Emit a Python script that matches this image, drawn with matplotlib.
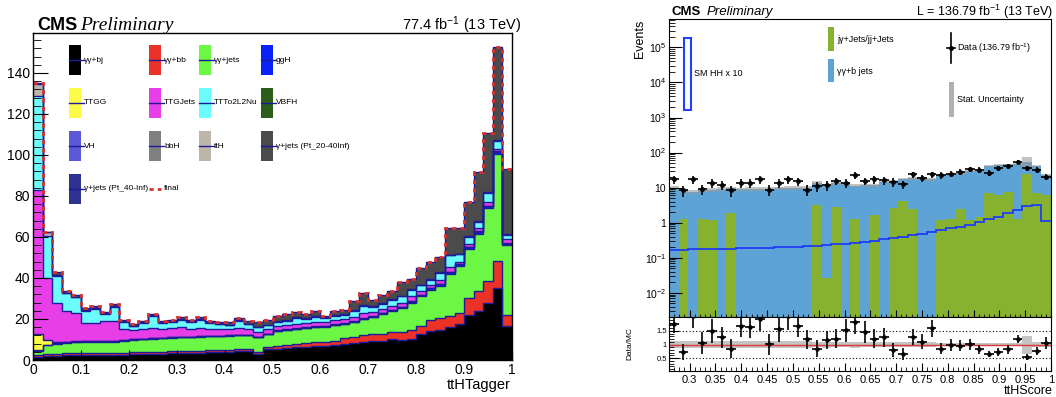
import numpy as np
import matplotlib
matplotlib.use('Agg')
import matplotlib.pyplot as plt
from matplotlib.patches import Rectangle
from matplotlib.lines import Line2D
from matplotlib.ticker import MultipleLocator, FixedLocator, FuncFormatter, LogLocator, NullFormatter

plt.rcParams['font.family'] = ['Liberation Sans', 'DejaVu Sans']
plt.rcParams['mathtext.fontset'] = 'custom'
plt.rcParams['mathtext.rm'] = 'Liberation Sans'
plt.rcParams['mathtext.it'] = 'Liberation Sans:italic'

# ---------------- pannello sinistro: ttHTagger (50 bin, livelli cumulativi dello stack)
lev_bj = [1.5, 1.8, 2.0, 2.2, 2.3, 2.4, 2.4, 2.3, 2.2, 2.3,
          2.8, 2.9, 3.0, 3.0, 3.3, 3.5, 3.3, 3.6, 3.8, 3.8,
          4.0, 4.3, 4.4, 3.0, 5.3, 5.6, 5.8, 6.2, 6.3, 6.8,
          7.0, 7.2, 8.0, 8.3, 9.0, 9.5, 9.3, 10.0, 9.8, 10.4,
          12.5, 14.0, 14.8, 16.0, 17.5, 22.0, 24.0, 27.8, 35.3, 16.4]
lev_bb = [2.2, 2.7, 3.0, 3.2, 3.3, 3.4, 3.4, 3.3, 3.2, 3.3,
          3.8, 3.9, 4.0, 4.0, 4.3, 4.5, 4.3, 4.6, 4.8, 4.8,
          5.0, 5.3, 5.4, 4.0, 6.5, 7.0, 7.5, 8.0, 8.2, 8.8,
          9.0, 9.5, 10.5, 11.0, 12.0, 12.5, 12.5, 13.5, 13.5, 14.5,
          16.5, 19.5, 20.4, 21.5, 23.0, 30.2, 33.5, 38.4, 48.5, 22.0]
lev_jets = [4.5, 7.3, 8.0, 8.5, 8.8, 9.0, 9.0, 9.0, 9.0, 9.5,
            9.8, 10.0, 10.3, 10.5, 10.8, 11.0, 11.0, 11.3, 11.5, 11.5,
            11.8, 12.0, 12.0, 11.0, 12.5, 14.0, 14.5, 15.0, 15.5, 16.0,
            16.3, 17.0, 17.5, 18.5, 20.0, 21.0, 22.5, 24.0, 25.5, 28.0,
            31.0, 34.3, 36.3, 42.0, 45.8, 54.2, 61.6, 74.0, 100.5, 56.0]
lev_ggh = [4.7, 7.5, 8.2, 8.7, 9.0, 9.2, 9.2, 9.2, 9.2, 9.7,
           10.0, 10.2, 10.5, 10.7, 11.0, 11.2, 11.2, 11.5, 11.7, 11.7,
           12.0, 12.2, 12.2, 11.2, 12.7, 14.2, 14.7, 15.2, 15.7, 16.2,
           16.5, 17.2, 17.7, 18.7, 20.2, 21.2, 22.7, 24.2, 25.8, 28.4,
           31.6, 35.0, 37.0, 42.8, 46.6, 55.0, 62.5, 75.0, 101.5, 56.8]
lev_ttgg = [12.6, 9.8, 8.8, 9.0, 9.2, 9.4, 9.4, 9.4, 9.4, 9.9,
            10.2, 10.4, 10.7, 10.9, 11.2, 11.4, 11.4, 11.7, 11.9, 11.9,
            12.2, 12.4, 12.4, 11.4, 12.9, 14.4, 14.9, 15.4, 15.9, 16.4,
            16.7, 17.4, 17.9, 18.9, 20.4, 21.4, 22.9, 24.4, 26.0, 28.6,
            31.8, 35.2, 37.2, 43.0, 46.8, 55.2, 62.7, 75.2, 101.7, 57.0]
lev_ttgjets = [83, 40, 28, 24, 23, 18, 18, 19, 19, 15,
               14.5, 15, 15.5, 15, 15.5, 16, 15, 15.5, 15, 15,
               15, 15.5, 15, 13.5, 15, 16.5, 17, 17.5, 18, 18.5,
               18.5, 19.5, 20, 21, 23, 23.5, 25, 26.5, 28, 31,
               33.5, 36.8, 38.9, 45.5, 47.9, 56.4, 64.5, 77, 103, 58.8]
lev_ttto = [129, 60.5, 41, 32.5, 30.5, 24, 25, 22.5, 26, 18.5,
            16.5, 18, 21.5, 18, 18.5, 19.5, 18.5, 19.5, 18, 17.5,
            17, 19, 17.5, 16, 17, 18.5, 19, 20.5, 20, 21,
            20.5, 21.5, 22, 24, 26.5, 26, 27.5, 29.5, 31, 34.3,
            36.5, 39.2, 42.5, 51.1, 51.5, 60.1, 67.3, 81.7, 107, 61]
lev_tth = [134.8, 62.2, 41.3, 32.8, 30.8, 24.3, 25.3, 22.8, 26.3, 18.8,
           16.8, 18.3, 21.8, 18.3, 18.8, 19.8, 18.8, 19.8, 18.3, 17.8,
           17.3, 19.3, 17.8, 16.3, 17.3, 18.8, 19.3, 20.8, 20.3, 21.3,
           20.8, 21.8, 22.3, 24.3, 26.8, 26.3, 27.8, 29.8, 31.3, 34.6,
           36.8, 39.5, 42.8, 51.4, 51.8, 60.4, 67.6, 82.0, 107.5, 61.3]
lev_final = [135, 62.4, 42.8, 33.8, 31.5, 25.5, 26.3, 23.5, 27.3, 19.6,
             17.5, 18.8, 22.4, 19.1, 19.4, 20.8, 19.6, 20.9, 19.0, 18.6,
             18.3, 20.3, 18.8, 18.3, 19.4, 21.6, 22.5, 23.5, 22.4, 23.7,
             21.6, 24.0, 24.2, 28.8, 32.7, 29.2, 31.9, 33.5, 37.9, 39.7,
             44.8, 47.9, 50.3, 64.4, 64.4, 77.1, 91.8, 110.6, 152.5, 93]

stack_labels = ['γγ+bj', 'γγ+bb', 'γγ+jets', 'ggH',
                'TTGG', 'TTGJets', 'TTTo2L2Nu', 'VBFH',
                'VH', 'bbH', 'ttH', 'γ+jets (Pt_20-40Inf)',
                'γ+jets (Pt_40-Inf)', 'final']
stack_colors = ['#000000', '#ec3226', '#6cf744', '#0a22f5',
                '#fbfb48', '#e83ee8', '#6bfcfc', '#2a5e1a',
                '#5a5ad6', '#808080', '#bdb5aa', '#4b4b4b',
                '#2d3190']

# ---------------- pannello destro: ttHScore (40 bin)
mc_total = [10.0, 8.0, 7.6, 8.4, 8.8, 9.4, 9.6, 9.0, 9.2, 9.3,
            9.4, 9.5, 9.7, 9.8, 10.0, 13.9, 11.5, 13.3, 13.5, 11.4,
            11.6, 11.8, 14.5, 14.8, 18.0, 18.3, 18.5, 17.3, 23.5, 24.5,
            25.5, 30, 31, 41.5, 45, 46, 47, 55, 41.5, 22.5]
jj_jets = [0, 1.25, 0, 1.25, 1.2, 0, 1.93, 0, 0, 0,
           0, 0, 0, 0, 0, 3.2, 0.027, 2.8, 0, 1.25,
           0, 1.62, 0, 2.7, 4.07, 2.5, 0, 0, 1.19, 1.3,
           2.4, 1.17, 1.42, 7.2, 6.0, 7.7, 1.3, 24, 7.2, 6.0]
mc_relerr = [0.12, 0.13, 0.13, 0.12, 0.12, 0.12, 0.12, 0.12, 0.12, 0.12,
             0.12, 0.12, 0.12, 0.12, 0.12, 0.10, 0.11, 0.10, 0.10, 0.11,
             0.10, 0.10, 0.09, 0.09, 0.08, 0.08, 0.08, 0.08, 0.07, 0.07,
             0.07, 0.06, 0.06, 0.06, 0.06, 0.06, 0.07, 0.33, 0.08, 0.10]
hh_x10 = [0.170, 0.172, 0.174, 0.176, 0.178, 0.180, 0.182, 0.185, 0.188, 0.191,
          0.195, 0.199, 0.204, 0.21, 0.216, 0.223, 0.232, 0.242, 0.253, 0.265,
          0.29, 0.31, 0.34, 0.37, 0.40, 0.44, 0.48, 0.55, 0.62, 0.69,
          0.77, 0.88, 1.03, 1.25, 1.48, 1.85, 2.3, 3.0, 3.2, 1.15]
data = [17.3, 8.5, 17.3, 9.0, 13.5, 12.3, 8.5, 13.5, 13.5, 17.3,
        8.8, 13.5, 17.3, 15.0, 8.8, 11.0, 11.6, 15.5, 13.5, 22.5,
        15.5, 17.3, 16.2, 14.5, 12.4, 24, 19.3, 24, 22.5, 25,
        28.6, 33.4, 32, 26.8, 35.8, 41.6, 54, 35.8, 32, 20.6]
ratio = [1.74, 0.73, 2.05, 1.06, 1.5, 1.26, 0.85, 1.68, 1.65, 1.95,
         1.01, 1.56, 2.05, 1.68, 1.2, 0.85, 1.16, 1.22, 1.52, 1.83,
         1.46, 1.22, 1.26, 0.79, 0.65, 1.28, 1.1, 1.59, 0.85, 0.98,
         0.95, 1.01, 0.82, 0.65, 0.73, 0.82, 1.2, 0.55, 0.77, 1.06]
ratio_err = [0.33, 0.28, 0.45, 0.4, 0.45, 0.38, 0.34, 0.42, 0.42, 0.45,
             0.38, 0.45, 0.5, 0.42, 0.35, 0.3, 0.33, 0.35, 0.42, 0.45,
             0.4, 0.35, 0.35, 0.25, 0.22, 0.3, 0.28, 0.32, 0.2, 0.22,
             0.2, 0.2, 0.17, 0.12, 0.15, 0.15, 0.15, 0.12, 0.15, 0.22]

W, H = 1056, 397
NAVY = '#1c1c9a'
fig = plt.figure(figsize=(W / 100, H / 100), dpi=100)


def fx(x):
    return x / W


def fy(y):
    return 1 - y / H


def fmt_g(v, pos):
    return '%g' % round(v, 3)


# ======================= pannello sinistro =======================
ax = fig.add_axes([fx(33), fy(360), fx(479), 327 / H])
edges = np.linspace(0, 1, len(lev_final) + 1)
levels = [lev_bj, lev_bb, lev_jets, lev_ggh, lev_ttgg, lev_ttgjets, lev_ttto, lev_tth, lev_final]
fill_cols = [stack_colors[0], stack_colors[1], stack_colors[2], stack_colors[3],
             stack_colors[4], stack_colors[5], stack_colors[6], stack_colors[10], stack_colors[11]]
base = np.zeros(len(lev_final))
for lev, col in zip(levels, fill_cols):
    ax.stairs(lev, edges, baseline=base, fill=True, color=col, lw=0)
    base = np.array(lev, dtype=float)
for lev in levels:
    ax.stairs(lev, edges, baseline=None, color=NAVY, lw=1.0)
ax.stairs(lev_final, edges, baseline=None, color='#d8302a', lw=2.0, ls=(0, (1.5, 1.5)))

ax.set_xlim(0, 1)
ax.set_ylim(0, 159.5)
ax.xaxis.set_major_locator(MultipleLocator(0.1))
ax.xaxis.set_minor_locator(MultipleLocator(0.02))
ax.yaxis.set_major_locator(MultipleLocator(20))
ax.yaxis.set_minor_locator(MultipleLocator(4))
ax.xaxis.set_major_formatter(FuncFormatter(fmt_g))
ax.tick_params(which='both', direction='in', labelsize=10, pad=2)
ax.tick_params(axis='y', which='major', length=11)
ax.tick_params(axis='y', which='minor', length=5.5)
ax.tick_params(axis='x', which='major', length=7)
ax.tick_params(axis='x', which='minor', length=3.5)
for s in ax.spines.values():
    s.set_linewidth(1.0)

fig.text(fx(37), fy(25), 'CMS', fontsize=13, fontweight='bold', va='center', ha='left')
fig.text(fx(80), fy(25), 'Preliminary', fontsize=14, style='italic',
         family=['Liberation Serif', 'DejaVu Serif'], va='center', ha='left')
fig.text(fx(521), fy(25), '77.4 fb$^{-1}$ (13 TeV)', fontsize=10.5, va='center', ha='right')
fig.text(fx(511), fy(385), 'ttHTagger', fontsize=10.5, va='center', ha='right')

# legenda a 4 colonne (stile ROOT)
col_x = [69, 149, 199, 261]
row_y = [45, 88, 131, 174]
for i, lab in enumerate(stack_labels):
    cx = col_x[i % 4]
    ry = row_y[i // 4]
    if lab == 'final':
        fig.add_artist(Line2D([fx(cx), fx(cx + 12)], [fy(ry + 15), fy(ry + 15)],
                              color='#d8302a', lw=2.0, ls=(0, (1.5, 1.5))))
    else:
        fig.add_artist(Rectangle((fx(cx), fy(ry + 30)), fx(12), 30 / H,
                                 facecolor=stack_colors[i], edgecolor='none'))
        fig.add_artist(Line2D([fx(cx), fx(cx + 15)], [fy(ry + 15), fy(ry + 15)],
                              color=NAVY, lw=1.0))
    fig.text(fx(cx + 15), fy(ry + 15), lab, fontsize=6, va='center', ha='left')

# ======================= pannello destro =======================
redges = np.linspace(0.26, 1.0, len(data) + 1)
rcent = 0.5 * (redges[:-1] + redges[1:])
rw = redges[1] - redges[0]
tot = np.array(mc_total)
rel = np.array(mc_relerr)

ax2 = fig.add_axes([fx(669), fy(316.7), fx(382), (316.7 - 19.3) / H])
ax2.set_yscale('log')
ax2.stairs(mc_total, redges, baseline=1e-4, fill=True, color='#5ea3d5', lw=0)
ax2.bar(redges[:-1], jj_jets, width=rw, bottom=1e-4, align='edge', color='#86b22f', lw=0)
ax2.stairs(tot * (1 + rel), redges, baseline=tot * (1 - rel), fill=True,
           color='#9a9a9a', alpha=0.6, lw=0)
ax2.stairs(hh_x10, redges, baseline=None, color='#1f3cf5', lw=1.3)
ax2.errorbar(rcent, data, xerr=rw / 2, yerr=np.sqrt(data), fmt='o', ms=2.5,
             color='black', lw=1.2, capsize=0)
ax2.set_xlim(0.26, 1.0)
ax2.set_ylim(2.1e-3, 6.3e5)
ax2.xaxis.set_major_locator(MultipleLocator(0.05))
ax2.xaxis.set_minor_locator(MultipleLocator(0.01))
ax2.yaxis.set_major_locator(LogLocator(base=10, numticks=20))
ax2.yaxis.set_minor_locator(LogLocator(base=10, subs=np.arange(2, 10), numticks=20))
ax2.yaxis.set_minor_formatter(NullFormatter())


def fmt_log(v, pos):
    e = int(round(np.log10(v)))
    if e == 0:
        return '1'
    if e == 1:
        return '10'
    return '$10^{%d}$' % e


ax2.yaxis.set_major_formatter(FuncFormatter(fmt_log))
ax2.tick_params(which='both', direction='in', labelsize=7.5, pad=2)
ax2.tick_params(axis='x', labelbottom=False)
ax2.tick_params(axis='y', which='major', length=9)
ax2.tick_params(axis='y', which='minor', length=4.5)
ax2.tick_params(axis='x', which='major', length=5)
ax2.tick_params(axis='x', which='minor', length=2.5)

fig.text(fx(672), fy(12), 'CMS', fontsize=9.5, fontweight='bold', va='center', ha='left')
fig.text(fx(707), fy(12), 'Preliminary', fontsize=9.5, style='italic', va='center', ha='left')
fig.text(fx(1053), fy(12), 'L = 136.79 fb$^{-1}$ (13 TeV)', fontsize=9, va='center', ha='right')
fig.text(fx(640), fy(20), 'Events', fontsize=9, rotation=90, va='top', ha='center')

# legenda destra
fig.add_artist(Rectangle((fx(684), fy(110)), fx(7), 72 / H, facecolor='white',
                         edgecolor='#2040ff', lw=1.5))
fig.text(fx(694), fy(74), 'SM HH x 10', fontsize=6.5, va='center', ha='left')
fig.add_artist(Rectangle((fx(828), fy(51)), fx(6), 24 / H, facecolor='#86b22f', edgecolor='none'))
fig.text(fx(837), fy(39), 'jγ+Jets/jj+Jets', fontsize=6.5, va='center', ha='left')
fig.add_artist(Rectangle((fx(828), fy(82)), fx(6), 23 / H, facecolor='#5ea3d5', edgecolor='none'))
fig.text(fx(837), fy(71), 'γγ+b jets', fontsize=6.5, va='center', ha='left')
fig.add_artist(Line2D([fx(951), fx(951)], [fy(33), fy(63)], color='black', lw=1.2))
fig.add_artist(Line2D([fx(947), fx(955)], [fy(48), fy(48)], color='black', lw=1.2))
fig.add_artist(Line2D([fx(951)], [fy(48)], marker='o', ms=2.5, color='black'))
fig.text(fx(957), fy(48), 'Data (136.79 fb$^{-1}$)', fontsize=6.5, va='center', ha='left')
fig.add_artist(Rectangle((fx(949), fy(117)), fx(5), 35 / H, facecolor='#b0b0b0', edgecolor='none'))
fig.text(fx(957), fy(99), 'Stat. Uncertainty', fontsize=6.5, va='center', ha='left')

# pannello rapporto Data/MC
ax3 = fig.add_axes([fx(669), fy(371), fx(382), (371 - 316.7) / H])
ax3.stairs(1 + rel, redges, baseline=1 - rel, fill=True, color='#c4c4c4', lw=0)
for yv in (0.5, 1.0, 1.5):
    ax3.axhline(yv, color='black', lw=0.8, ls=(0, (1, 2)))
ax3.axhline(1.0, color='#e03a3a', lw=1.0)
ax3.errorbar(rcent, ratio, xerr=rw / 2, yerr=ratio_err, fmt='o', ms=2.2,
             color='black', lw=1.2, capsize=0)
ax3.set_xlim(0.26, 1.0)
ax3.set_ylim(0.03, 2.02)
ax3.yaxis.set_major_locator(FixedLocator([0.5, 1.0, 1.5]))
ax3.yaxis.set_major_formatter(FuncFormatter(fmt_g))
ax3.yaxis.set_minor_locator(FixedLocator([0.1, 0.2, 0.3, 0.4, 0.6, 0.7, 0.8, 0.9,
                                          1.1, 1.2, 1.3, 1.4, 1.6, 1.7, 1.8, 1.9]))
ax3.yaxis.set_minor_formatter(NullFormatter())
ax3.xaxis.set_major_locator(MultipleLocator(0.05))
ax3.xaxis.set_minor_locator(MultipleLocator(0.01))
ax3.xaxis.set_major_formatter(FuncFormatter(fmt_g))
ax3.tick_params(which='both', direction='in')
ax3.tick_params(axis='x', labelsize=8, pad=3)
ax3.tick_params(axis='y', labelsize=5.5, pad=1.5)
ax3.tick_params(axis='y', which='major', length=7)
ax3.tick_params(axis='y', which='minor', length=3.5)
ax3.tick_params(axis='x', which='major', length=6)
ax3.tick_params(axis='x', which='minor', length=3)
fig.text(fx(630), fy(344), 'Data/MC', fontsize=6, rotation=90, va='center', ha='center')
fig.text(fx(1053), fy(391), 'ttHScore', fontsize=9, va='center', ha='right')

fig.savefig('out.png', dpi=100)
